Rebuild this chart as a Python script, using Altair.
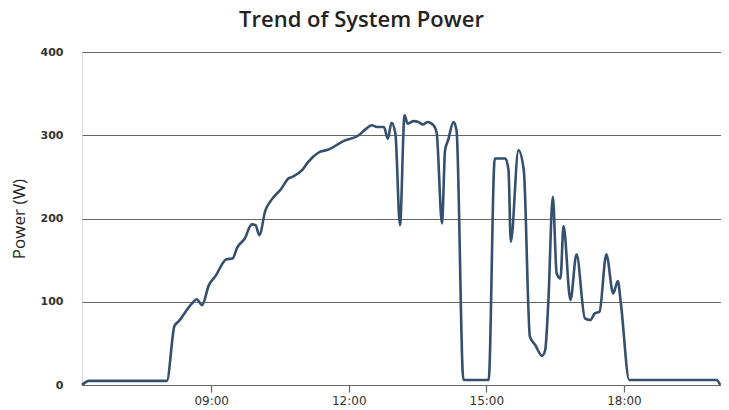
import altair as alt
import pandas as pd

times = ["06:11", "06:20", "08:02", "08:12", "08:17", "08:35", "08:41", "08:48", "08:57",
         "09:05", "09:20", "09:28", "09:34", "09:44", "09:53", "09:58", "10:03", "10:11",
         "10:17", "10:32", "10:41", "10:46", "10:59", "11:07", "11:20", "11:34", "11:53",
         "12:13", "12:23", "12:30", "12:37", "12:46", "12:51", "12:56", "13:01", "13:07",
         "13:13", "13:17", "13:25", "13:31", "13:37", "13:43", "13:51", "13:55", "14:02",
         "14:06", "14:10", "14:17", "14:21", "14:30", "15:03", "15:11", "15:25", "15:29",
         "15:32", "15:42", "15:49", "15:57", "16:04", "16:13", "16:17", "16:21", "16:27",
         "16:32", "16:37", "16:41", "16:50", "16:58", "17:09", "17:16", "17:22", "17:28",
         "17:37", "17:46", "17:52", "17:56", "18:07", "20:01", "20:06"]
power = [0, 5, 5, 71, 76, 98, 103, 96, 120,
         130, 151, 152, 165, 176, 193, 192, 180, 210,
         220, 236, 248, 250, 258, 268, 279, 283, 293,
         300, 308, 312, 310, 310, 296, 315, 302, 192,
         324, 314, 317, 316, 313, 316, 312, 303, 194,
         282, 294, 316, 306, 6, 6, 272, 272, 258,
         172, 282, 258, 58, 48, 35, 42, 98, 226,
         134, 128, 191, 102, 157, 80, 78, 86, 88,
         157, 110, 125, 98, 6, 6, 0]
x_tick_hours = [9, 12, 15, 18]
y_ticks = [0, 100, 200, 300, 400]
x_domain_hours = [6 + 11 / 60, 20 + 7 / 60]

df = pd.DataFrame({"time": times, "power": power})

chart = alt.Chart(df).transform_calculate(
    hour="toNumber(split(datum.time, ':')[0]) + toNumber(split(datum.time, ':')[1]) / 60"
).mark_line(
    interpolate="monotone", color="#34506e", strokeWidth=2.6
).encode(
    x=alt.X("hour:Q", title=None,
            scale=alt.Scale(domain=x_domain_hours, nice=False, zero=False),
            axis=alt.Axis(values=x_tick_hours,
                          labelExpr="(datum.value < 10 ? '0' : '') + datum.value + ':00'",
                          grid=False, domain=True, domainColor="#666", domainWidth=1.2,
                          ticks=True, tickColor="#666", tickSize=7, tickWidth=1.2,
                          labelFont="DejaVu Sans", labelFontSize=12, labelColor="#333",
                          labelPadding=3)),
    y=alt.Y("power:Q", title="Power (W)",
            scale=alt.Scale(domain=[0, 400], nice=False),
            axis=alt.Axis(values=y_ticks, grid=True, gridColor="#666",
                          gridWidth=1.2, domain=False, ticks=False,
                          labelFont="DejaVu Sans", labelFontSize=11, labelFontWeight="bold",
                          labelColor="#333", labelPadding=19,
                          titleFont="Open Sans", titleFontSize=17, titleFontWeight="normal",
                          titleColor="#222", titlePadding=12)),
).properties(
    width=639, height=333,
    title=alt.TitleParams("Trend of System Power", font="Open Sans", fontSize=22,
                          fontWeight=600, color="#222", anchor="middle", offset=14, dx=-40),
    autosize=alt.AutoSizeParams(type="none"),
    padding={"left": 74, "top": 44, "right": 0, "bottom": 23},
).configure_view(stroke=None).configure(background="white")

chart.save("out.html", embed_options={"renderer": "svg", "actions": False})
